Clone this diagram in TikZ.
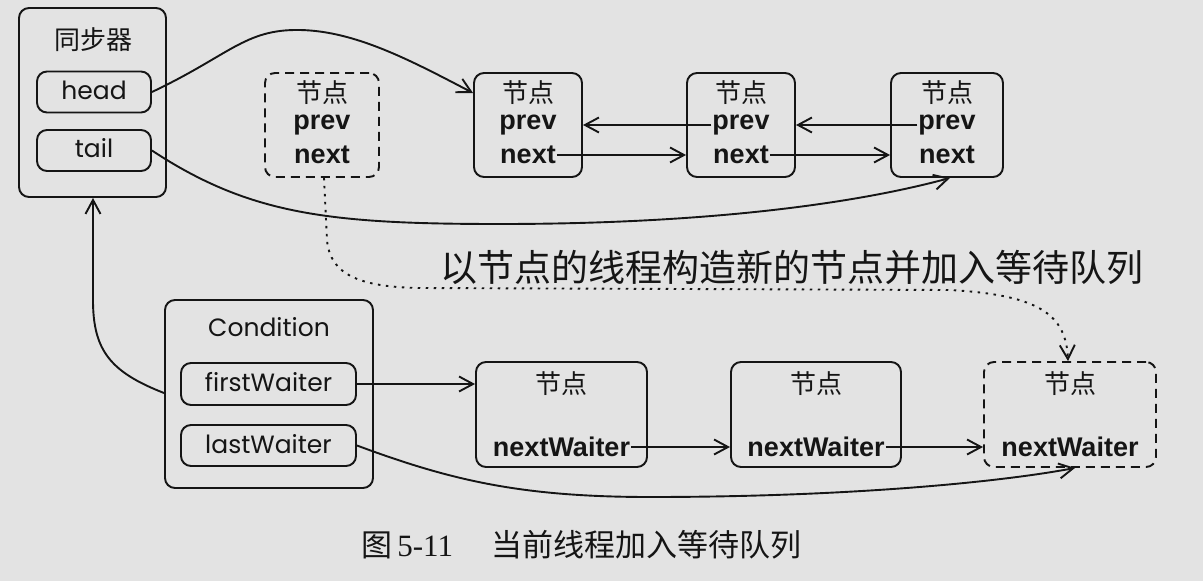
\documentclass[tikz,border=0pt]{standalone}
\usepackage{fontspec}
\usetikzlibrary{arrows.meta}
\newfontfamily\cjk{Noto Sans CJK SC}
\newfontfamily\gothic{Poppins}
\newfontfamily\arial{Liberation Sans}
\newfontfamily\tnr{Liberation Serif}
\definecolor{bg}{HTML}{E3E3E3}
\definecolor{ink}{HTML}{151515}
\tikzset{
  box/.style={draw=ink, line width=1.9pt, rounded corners=10pt, inner sep=0pt},
  dbox/.style={box, dash pattern=on 9pt off 6pt},
  lbl/.style={inner sep=1pt, text=ink},
  cn/.style={lbl, font=\cjk\fontsize{26pt}{28pt}\selectfont},
  fld/.style={lbl, font=\arial\bfseries\fontsize{27pt}{30pt}\selectfont},
  gt/.style={lbl, font=\gothic\fontsize{25pt}{28pt}\selectfont},
  arr/.style={draw=ink, line width=1.9pt, -{Straight Barb[length=14pt,width=15pt,line width=1.9pt]}},
  dotl/.style={arr, dash pattern=on 2.5pt off 5.5pt}
}
\begin{document}
\begin{tikzpicture}[x=1pt,y=-1pt]
\fill[bg] (0,0) rectangle (1203,581);
\useasboundingbox (0,0) rectangle (1203,581);
% synchronizer
\node[box, minimum width=147pt, minimum height=189pt] (sync) at (92.5,102.5) {};
\node[cn] (synct) at (93,40) {同步器};
\node[box, minimum width=114pt, minimum height=41pt] (head) at (94,92) {};
\node[gt] (headt) at (94,90) {head};
\node[box, minimum width=114pt, minimum height=41pt] (tail) at (94,150.5) {};
\node[gt] (tailt) at (94,148) {tail};
% dashed node
\node[dbox, minimum width=114pt, minimum height=104pt] (dn) at (322,125) {};
\node[cn] (dnt) at (322,93) {节点};
\node[fld] (dnp) at (322,125) {prev};
\node[fld] (dnn) at (322,155) {next};
% list nodes
\node[box, minimum width=108pt, minimum height=104pt] (n1) at (528,125) {};
\node[cn] (n1t) at (528,93) {节点};
\node[fld] (n1p) at (528,125) {prev};
\node[fld] (n1n) at (528,155) {next};
\node[box, minimum width=108pt, minimum height=104pt] (n2) at (741,125) {};
\node[cn] (n2t) at (741,93) {节点};
\node[fld] (n2p) at (741,125) {prev};
\node[fld] (n2n) at (741,155) {next};
\node[box, minimum width=112pt, minimum height=104pt] (n3) at (947,125) {};
\node[cn] (n3t) at (947,93) {节点};
\node[fld] (n3p) at (947,125) {prev};
\node[fld] (n3n) at (947,155) {next};
% condition
\node[box, minimum width=208pt, minimum height=188pt] (cond) at (269,394) {};
\node[gt] (condt) at (269,327) {Condition};
\node[box, minimum width=175pt, minimum height=42pt] (fw) at (268.5,384) {};
\node[gt] (fwt) at (268.5,382) {firstWaiter};
\node[box, minimum width=175pt, minimum height=41pt] (lw) at (268.5,445.5) {};
\node[gt] (lwt) at (268.5,444) {lastWaiter};
% waiters
\node[box, minimum width=171pt, minimum height=105pt] (w1) at (561.5,414.5) {};
\node[cn] (w1t) at (561.5,384) {节点};
\node[fld] (w1n) at (561.5,447) {nextWaiter};
\node[box, minimum width=170pt, minimum height=105pt] (w2) at (816,414.5) {};
\node[cn] (w2t) at (816,384) {节点};
\node[fld] (w2n) at (816,447) {nextWaiter};
\node[dbox, minimum width=172pt, minimum height=105pt] (w3) at (1070,414.5) {};
\node[cn] (w3t) at (1070,384) {节点};
\node[fld] (w3n) at (1070,447) {nextWaiter};
% texts
\node[lbl, font=\cjk\fontsize{37pt}{40pt}\selectfont] (note) at (792,267) {以节点的线程构造新的节点并加入等待队列};
\node[lbl, anchor=west, font=\cjk\fontsize{31pt}{34pt}\selectfont] (cap) at (360,545) {图\,{\tnr 5-11}\hspace{38pt}当前线程加入等待队列};
% arrows between list nodes
\draw[arr] (n2p.west) -- (n2p.west -| n1.east);
\draw[arr] (n1n.east) -- (n1n.east -| n2.west);
\draw[arr] (n3p.west) -- (n3p.west -| n2.east);
\draw[arr] (n2n.east) -- (n2n.east -| n3.west);
\draw[arr] (fw.east) -- (fw.east -| w1.west);
\draw[arr] (w1n.east) -- (w1n.east -| w2.west);
\draw[arr] (w2n.east) -- (w2n.east -| w3.west);
% curves
\draw[arr] (head.east) .. controls (230,55) and (245,29) .. (300,30) .. controls (355,31) and (410,60) .. (n1.west |- 0,93);
\draw[arr] (tail.east) .. controls (250,215) and (330,224) .. (500,224) .. controls (700,224) and (850,205) .. (n3.south -| 950,0);
\draw[arr] (lw.east) .. controls (450,480) and (520,497) .. (650,497) .. controls (850,497) and (1000,482) .. (w3.south -| 1075,0);
\draw[arr] (cond.west |- 0,393) .. controls (110,372) and (93,350) .. (93,300) -- (sync.south -| 93,0);
\draw[dotl] (dn.south -| 324,0) -- (327,240) .. controls (330,275) and (360,287) .. (420,288) -- (950,290) .. controls (1040,295) and (1066,315) .. (w3.north -| 1068,0);
\end{tikzpicture}
\end{document}
